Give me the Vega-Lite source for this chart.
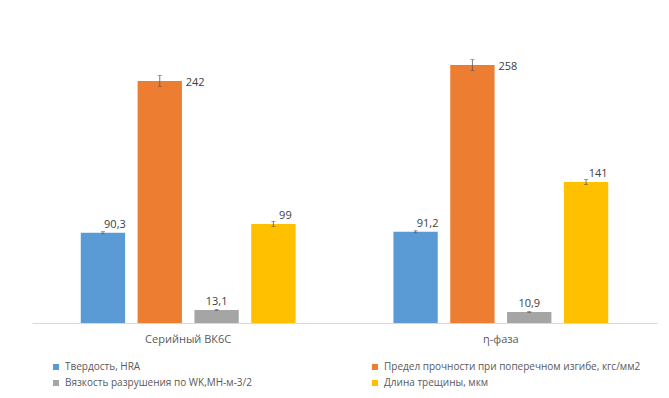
{
  "$schema": "https://vega.github.io/schema/vega-lite/v6.json",
  "width": 625,
  "height": 300,
  "autosize": {"type": "none"},
  "padding": {"left": 32, "top": 23, "right": 12, "bottom": 75},
  "background": "white",
  "config": {
    "view": {"stroke": null},
    "font": "Open Sans",
    "text": {"font": "Open Sans", "fontSize": 11, "color": "#404040"}
  },
  "data": {
    "values": [
      {"group": "Серийный ВК6С", "series": "Твердость, HRA", "value": 90.3, "lo": 89.3, "hi": 91.3, "label": "90,3"},
      {"group": "Серийный ВК6С", "series": "Предел прочности при поперечном изгибе, кгс/мм2", "value": 242, "lo": 236.5, "hi": 247.5, "label": "242"},
      {"group": "Серийный ВК6С", "series": "Вязкость разрушения по WK,МН-м-3/2", "value": 13.1, "lo": 12.6, "hi": 13.6, "label": "13,1"},
      {"group": "Серийный ВК6С", "series": "Длина трещины, мкм", "value": 99, "lo": 96.5, "hi": 101.5, "label": "99"},
      {"group": "η-фаза", "series": "Твердость, HRA", "value": 91.2, "lo": 90.2, "hi": 92.2, "label": "91,2"},
      {"group": "η-фаза", "series": "Предел прочности при поперечном изгибе, кгс/мм2", "value": 258, "lo": 252.5, "hi": 263.5, "label": "258"},
      {"group": "η-фаза", "series": "Вязкость разрушения по WK,МН-м-3/2", "value": 10.9, "lo": 10.4, "hi": 11.4, "label": "10,9"},
      {"group": "η-фаза", "series": "Длина трещины, мкм", "value": 141, "lo": 138.5, "hi": 143.5, "label": "141"}
    ]
  },
  "encoding": {
    "x": {
      "field": "group",
      "type": "nominal",
      "sort": null,
      "scale": {"paddingInner": 0.273, "paddingOuter": 0.136},
      "axis": {
        "title": null,
        "ticks": false,
        "labelAngle": 0,
        "labelFontSize": 11,
        "labelColor": "#595959",
        "labelFont": "Open Sans",
        "labelPadding": 10,
        "domainColor": "#D9D9D9",
        "domainWidth": 1
      }
    },
    "xOffset": {
      "field": "series",
      "type": "nominal",
      "sort": ["Твердость, HRA", "Предел прочности при поперечном изгибе, кгс/мм2", "Вязкость разрушения по WK,МН-м-3/2", "Длина трещины, мкм"],
      "scale": {"paddingInner": 0.22, "paddingOuter": 0.11}
    }
  },
  "layer": [
    {
      "mark": {"type": "bar"},
      "encoding": {
        "y": {"field": "value", "type": "quantitative", "scale": {"domain": [0, 300]}, "axis": null},
        "color": {
          "field": "series",
          "type": "nominal",
          "scale": {
            "domain": ["Твердость, HRA", "Предел прочности при поперечном изгибе, кгс/мм2", "Вязкость разрушения по WK,МН-м-3/2", "Длина трещины, мкм"],
            "range": ["#5B9BD5", "#ED7D31", "#A5A5A5", "#FFC000"]
          },
          "legend": {
            "title": null,
            "orient": "none",
            "legendX": 19,
            "legendY": 339,
            "direction": "horizontal",
            "columns": 2,
            "columnPadding": 118,
            "rowPadding": 6,
            "symbolType": "square",
            "symbolSize": 36,
            "symbolStrokeWidth": 0,
            "labelFontSize": 10,
            "labelFont": "Open Sans",
            "labelColor": "#595959",
            "labelOffset": 4,
            "labelLimit": 400
          }
        }
      }
    },
    {
      "mark": {"type": "rule", "color": "#595959", "strokeWidth": 0.8},
      "encoding": {
        "y": {"field": "lo", "type": "quantitative"},
        "y2": {"field": "hi"}
      }
    },
    {
      "mark": {"type": "tick", "color": "#595959", "size": 4, "thickness": 0.8, "orient": "horizontal"},
      "encoding": {"y": {"field": "lo", "type": "quantitative"}}
    },
    {
      "mark": {"type": "tick", "color": "#595959", "size": 4, "thickness": 0.8, "orient": "horizontal"},
      "encoding": {"y": {"field": "hi", "type": "quantitative"}}
    },
    {
      "transform": [{"filter": "datum.series === 'Твердость, HRA' || datum.series === 'Длина трещины, мкм'"}],
      "mark": {"type": "text", "align": "center", "baseline": "bottom", "dx": 12, "dy": -3},
      "encoding": {
        "y": {"field": "value", "type": "quantitative"},
        "text": {"field": "label"}
      }
    },
    {
      "transform": [{"filter": "datum.series === 'Вязкость разрушения по WK,МН-м-3/2'"}],
      "mark": {"type": "text", "align": "center", "baseline": "bottom", "dx": 0, "dy": -3},
      "encoding": {
        "y": {"field": "value", "type": "quantitative"},
        "text": {"field": "label"}
      }
    },
    {
      "transform": [{"filter": "datum.series === 'Предел прочности при поперечном изгибе, кгс/мм2'"}],
      "mark": {"type": "text", "align": "left", "baseline": "middle", "dx": 26, "dy": 2},
      "encoding": {
        "y": {"field": "value", "type": "quantitative"},
        "text": {"field": "label"}
      }
    }
  ]
}
